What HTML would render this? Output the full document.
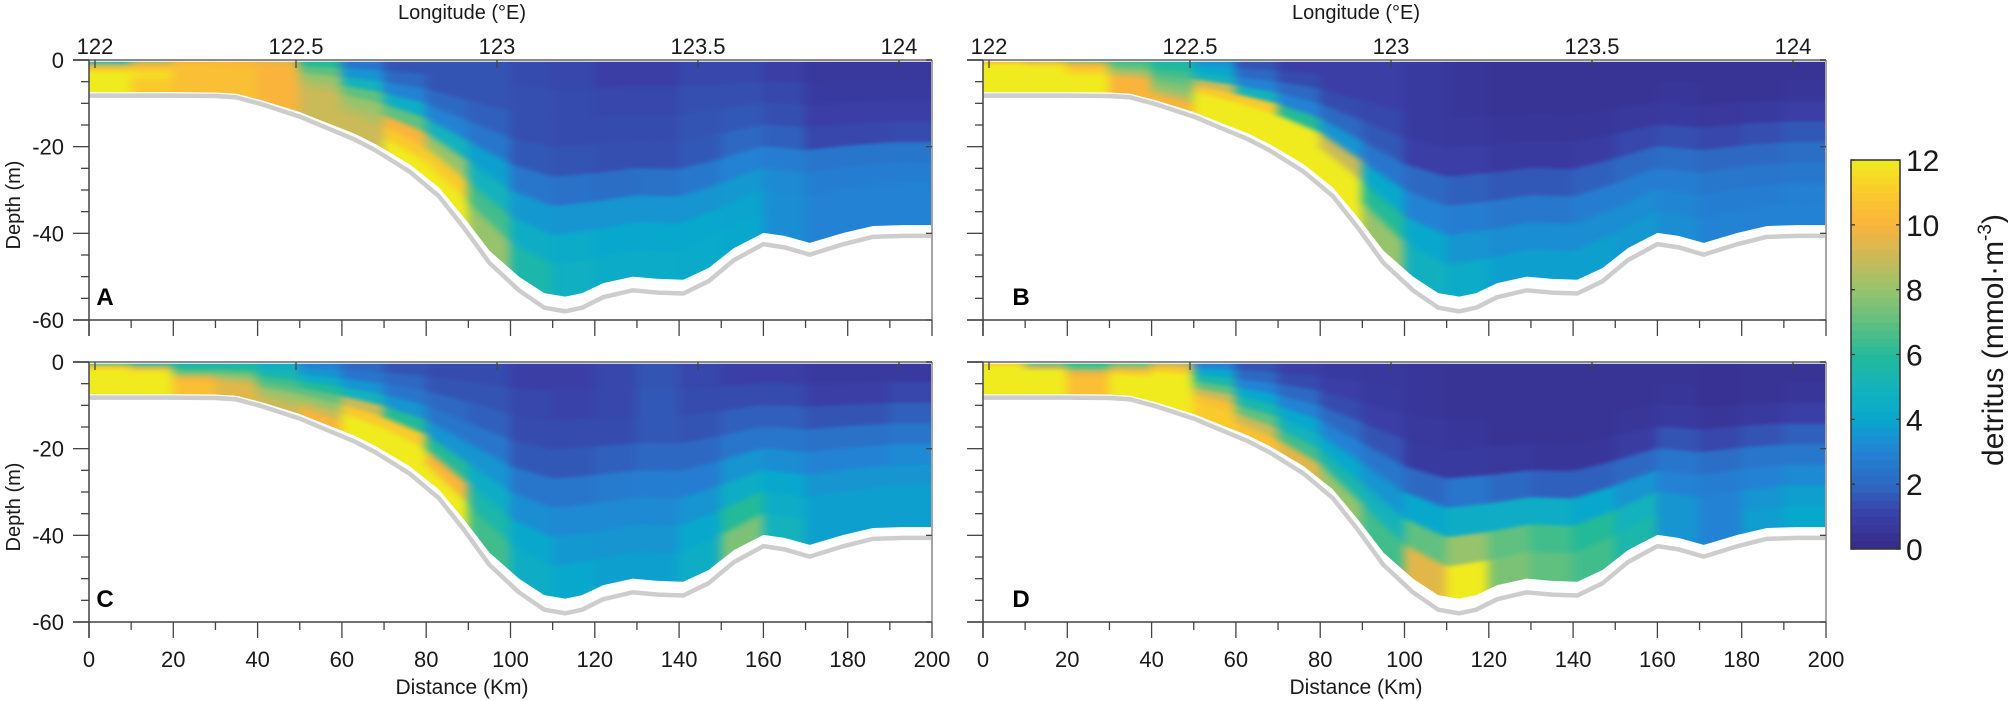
<!DOCTYPE html>
<html><head><meta charset="utf-8"><title>Detritus sections</title>
<style>
html,body{margin:0;padding:0;background:#fff;}
svg{display:block;font-family:"Liberation Sans",Arial,sans-serif;}
</style></head>
<body>
<svg id="chart" width="2008" height="701" viewBox="0 0 2008 701" xmlns="http://www.w3.org/2000/svg">
<defs>
<filter id="soft" x="-5%" y="-10%" width="110%" height="120%" color-interpolation-filters="sRGB"><feGaussianBlur stdDeviation="5 1.5"/></filter>
</defs>
</svg>
<script>
// ---- data ----
const distanceTicks = [0,20,40,60,80,100,120,140,160,180,200];
const depthTicks = [0,-20,-40,-60];
const lonTicks = [122,122.5,123,123.5,124];
const colorbarTicks = [0,2,4,6,8,10,12];
const columnStartsKm = [0,10,20,30,40,50,60,70,80,90,100,110,120,130,140,150,160,170,180,190];
const bathyKm    = [0,10,20,30,35,41,50,57,63,68,76,83,89,95,102,108,113,117,122,129,135,141,147,153,160,165,171,179,186,193,200];
const bathyDepth = [7.4,7.4,7.4,7.5,7.8,9.3,12,14.7,17,19.4,24,29.4,36.4,44,50,53.8,54.6,53.8,51.5,50,50.5,50.7,48,43.4,39.9,40.6,42.2,39.9,38.3,38.1,38.1];
// each row = one 10-km column, values from surface layer to bottom layer (mmol m-3)
const valuesA = [
[5,9,11,12,12,12,12,12],[8,10,11,11.5,11.5,11,11,11],[10,10.5,10.5,10.5,10.5,10.5,10.5,10.5],[10,10.3,10.5,10.5,10.5,10.5,10.5,10.5],
[9.5,10,10,10,10,10,10,10],[6,7,8,8.5,9,9,9,9],[2.5,3.5,5,7,8,8.5,9,9],[1.5,2,3,4.5,7,10,11,12],
[1.5,1.5,2,3,5,8,11,12],[1.5,1.5,1.8,2.5,3.8,5,6.5,8],[1.3,1.4,1.4,1.6,2.5,3.6,4.5,5.5],[1.2,1.3,1.3,1.5,2.3,3.5,4.3,4.7],
[1,1.2,1.3,1.4,2.2,3.5,4,4.3],[1,1.2,1.3,1.4,2.3,3.5,4,4.3],[1.2,1.4,1.5,1.6,2.6,3.5,4,4.2],[1.2,1.4,1.6,2,3,3.6,3.9,4],
[1,1.2,1.4,1.8,2.8,3.2,3.3,3.3],[0.7,0.8,1,1.2,2.5,2.8,3,3],[0.7,0.8,1,1.2,2.5,2.8,3,3],[0.7,0.8,1,1.3,2.5,2.8,3,3]];
const valuesB = [
[10,12,12,12,12,12,12,12],[9,11.5,12,12,12,12,12,12],[7.5,10,11,11.5,12,12,12,12],[6.5,7,8,9,10,10,10,10],
[5.5,6,6.5,7,7.5,8,9,10],[3.5,4,5,9,11,12,12,12],[1.5,2,3,5,11,12,12,12],[1,1.3,2,3,6,12,12,12],
[1,1,1.3,2,3.5,9,12,12],[1,1,1.2,1.6,2.5,4,6,8],[0.8,0.8,0.8,1,2,3,4,4.8],[0.6,0.6,0.7,1,1.8,2.8,3.5,4.3],
[0.5,0.5,0.6,0.8,1.6,2.6,3.3,3.8],[0.5,0.5,0.6,0.8,1.6,2.6,3.3,3.8],[0.5,0.5,0.6,0.9,1.8,2.8,3.3,3.8],[0.5,0.5,0.7,1.2,2,2.8,3.3,3.6],
[0.5,0.6,0.8,1.4,2.2,2.8,3.1,3.3],[0.5,0.5,0.7,1.2,2,2.6,2.8,3],[0.5,0.5,0.8,1.4,2,2.5,2.8,3],[0.5,0.6,1,1.6,2.2,2.6,2.9,3]];
const valuesC = [
[7,11,12,12,12,12,12,12],[5.5,9,11.5,12,12,12,12,12],[5,6,7,8.5,10,10.5,10.5,10.5],[5,6,7,8,9,9.5,9.5,9.5],
[4.5,5,5.5,6.5,7,8,8.5,9],[3,3.5,4.5,6,7,8,9,10],[2,2.5,3.5,5,9,11,12,12],[1.5,2,2.5,3.5,6,11,12,12],
[1.3,1.5,2,2.5,3.5,6,10,12],[1.3,1.5,1.8,2.5,3.5,4.5,5.5,6.5],[1,1.2,1.3,1.6,2.5,3.3,4,4.5],[1,1.1,1.3,1.6,2.5,3.2,3.6,4],
[1.2,1.2,1.3,1.8,2.7,3.2,3.5,3.8],[1.5,1.6,1.6,2,2.8,3.2,3.5,3.8],[1.2,1.3,1.5,2,2.8,3.5,4,4.5],[1,1.3,1.8,2.5,3.5,4.5,6,7.5],
[1,1.3,1.8,2.5,3.3,4,4.5,5],[0.8,1,1.5,2.3,3,3.5,3.8,3.8],[0.8,1,1.5,2.3,3,3.5,3.8,3.8],[0.8,1.2,1.8,2.5,3.2,3.5,3.8,3.8]];
const valuesD = [
[11,12,12,12,12,12,12,12],[7,9,12,12,12,12,12,12],[6,7,9,10,10.5,10.5,10.5,10.5],[7,9,11,12,12,12,12,12],
[9,11,12,12,12,12,12,12],[3,4,5.5,7,9,10.5,11,11],[1.5,2,3,4,5.5,7,9,10.5],[1,1.3,2,3,4,5,6.5,9.5],
[0.8,1,1.3,2,3,4,5.5,8],[0.7,0.8,1,1.5,2.5,3.5,5,6.5],[0.6,0.6,0.7,0.8,2,4,7,9.5],[0.5,0.5,0.6,0.8,2.5,4.5,8,12],
[0.5,0.5,0.5,0.7,2,4.5,7,7.5],[0.5,0.5,0.5,0.6,1.8,4.5,6.5,7],[0.5,0.5,0.5,0.6,1.8,4,6,6.5],[0.5,0.5,0.6,0.9,2,3.5,5,5.5],
[0.5,0.6,0.8,1.5,2.5,3,3.5,3.5],[0.4,0.4,0.6,1.2,2.2,2.8,3,3],[0.5,0.5,0.8,1.5,2.5,3,3.5,3.7],[0.5,0.6,1,1.8,2.6,3.2,3.8,4]];

// ---- layout ----
const NS = "http://www.w3.org/2000/svg";
const svg = document.getElementById('chart');
const PW = 843, PH = 260, KM = 200, DM = 60, VMAX = 12;
const panels = [
 {id:'a', label:'A', x:89, y:60, vals:valuesA, left:true, bottom:false},
 {id:'b', label:'B', x:983, y:60, vals:valuesB, left:false, bottom:false},
 {id:'c', label:'C', x:89, y:362, vals:valuesC, left:true, bottom:true},
 {id:'d', label:'D', x:983, y:362, vals:valuesD, left:false, bottom:true}
];
const stops = [[53,42,135],[58,62,165],[45,105,195],[35,130,212],[8,168,205],[20,178,188],[35,186,152],[95,192,128],[150,195,108],[202,186,88],[250,180,60],[250,202,44],[240,235,30]];
function parula(v){
  let t = Math.max(0, Math.min(1, v / VMAX)) * (stops.length - 1);
  let i = Math.min(stops.length - 2, Math.floor(t)), f = t - i;
  const c = stops[i].map((s, k) => Math.round(s + (stops[i+1][k] - s) * f));
  return 'rgb(' + c.join(',') + ')';
}
function el(tag, attrs, parent){
  const e = document.createElementNS(NS, tag);
  for (const k in attrs) e.setAttribute(k, attrs[k]);
  (parent || svg).appendChild(e);
  return e;
}
function bathyAt(km){
  if (km <= bathyKm[0]) return bathyDepth[0];
  for (let i = 1; i < bathyKm.length; i++) {
    if (km <= bathyKm[i]) { const f = (km - bathyKm[i-1]) / (bathyKm[i] - bathyKm[i-1]); return bathyDepth[i-1] + f * (bathyDepth[i] - bathyDepth[i-1]); }
  }
  return bathyDepth[bathyDepth.length - 1];
}
function txt(parent, x, y, s, size, anchor, extra){
  const t = el('text', Object.assign({x:x, y:y, 'font-size':size, 'text-anchor':anchor || 'middle', fill:'#1a1a1a'}, extra || {}), parent);
  t.textContent = s;
  return t;
}

panels.forEach(p => {
  const X = km => p.x + km * PW / KM;
  const Y = d => p.y + d * PH / DM;
  const LX = lon => p.x + 6 + (lon - 122) * 402;
  const g = el('g', {});
  
  

  const cp = el('clipPath', {id:'clip-' + p.id}, svg.querySelector('defs'));
  let pts = [[X(0), Y(0.4)], [X(KM), Y(0.4)]];
  for (let i = bathyKm.length - 1; i >= 0; i--) pts.push([X(bathyKm[i]), Y(bathyDepth[i])]);
  el('polygon', {points: pts.map(q => q.join(',')).join(' ')}, cp);

  const field = el('g', {'clip-path':'url(#clip-' + p.id + ')'}, g);
  
  
  const soft = el('g', {filter:'url(#soft)'}, field);
  const L = p.vals[0].length;
  p.vals.forEach((col, i) => {
    let a = columnStartsKm[i], b = a + 10;
    if (i === 0) a = -10;
    if (i === p.vals.length - 1) b = 210;
    const da = bathyAt(a), db = bathyAt(b);
    col.forEach((v, k) => {
      let ta = da * k / L, tb = db * k / L, ba = da * (k + 1) / L, bb = db * (k + 1) / L;
      if (k === 0) { ta = -4; tb = -4; }
      if (k === L - 1) { ba += 8; bb += 8; }
      const poly = el('polygon', {points: [X(a),Y(ta),X(b),Y(tb),X(b),Y(bb),X(a),Y(ba)].join(' '), fill: parula(v), stroke: parula(v), 'stroke-width': 1}, soft);
      
      
    });
  });

  const seabed = el('polyline', {points: bathyKm.map((k, i) => X(k) + ',' + Y(bathyDepth[i] * 1.055 + 0.4)).join(' '), fill:'none', stroke:'#cdcdcd', 'stroke-width':4.5, 'stroke-linejoin':'round'}, g);
  
  

  const axisColor = '#444';
  const topAx = el('line', {x1:p.x - 16, y1:p.y, x2:p.x + PW, y2:p.y, stroke:'#8a8a8a', 'stroke-width':2}, g);
  
  
  const rightAx = el('line', {x1:p.x + PW, y1:p.y, x2:p.x + PW, y2:p.y + PH, stroke:'#a5a5a5', 'stroke-width':2}, g);
  
  
  const leftAx = el('line', {x1:p.x, y1:p.y, x2:p.x, y2:p.y + PH + 16, stroke:axisColor, 'stroke-width':1.5}, g);
  
  
  const botAx = el('line', {x1:p.x - 16, y1:p.y + PH, x2:p.x + PW, y2:p.y + PH, stroke:axisColor, 'stroke-width':1.5}, g);
  
  

  for (let d = 0; d <= DM; d += 5) {
    const major = d % 20 === 0;
    el('line', {x1:p.x - (major ? 16 : 8), y1:Y(d), x2:p.x, y2:Y(d), stroke:axisColor, 'stroke-width':1.3}, g);
  }
  depthTicks.forEach(t => {
    el('line', {x1:p.x + PW - 6, y1:Y(-t), x2:p.x + PW, y2:Y(-t), stroke:axisColor, 'stroke-width':1.3}, g);
    if (p.left) {
      const lab = txt(g, p.x - 25, Y(-t) + 8, String(t), 22, 'end');
      
      
    }
  });
  for (let k = 0; k <= KM; k += 10) {
    const major = k % 20 === 0;
    el('line', {x1:X(k), y1:p.y + PH, x2:X(k), y2:p.y + PH + (major ? 16 : 8), stroke:axisColor, 'stroke-width':1.3}, g);
  }
  if (p.bottom) {
    distanceTicks.forEach(k => {
      const lab = txt(g, X(k), 667, String(k), 22);
      
      
    });
    const xt = txt(g, p.x + 373, 694, 'Distance (Km)', 21);
    
    
  }
  lonTicks.forEach(l => {
    el('line', {x1:LX(l), y1:p.y, x2:LX(l), y2:p.y + 8, stroke:axisColor, 'stroke-width':1.3}, g);
    if (!p.bottom) {
      const lab = txt(g, LX(l), 54, String(l), 22);
      
      
    }
  });
  if (!p.bottom) {
    const lt = txt(g, p.x + 373, 19, 'Longitude (\u00B0E)', 20);
    
    
  }
  if (p.left) {
    const yt = txt(g, 0, 0, 'Depth (m)', 20, 'middle', {transform:'translate(20,' + (p.y + 145) + ') rotate(-90)'});
    
    
  }
  const pl = txt(g, p.x + (p.left ? 16 : 38), p.y + 245, p.label, 24, 'middle', {'font-weight':'bold', fill:'#000'});
  
  
});

// ---- colorbar ----
const cb = el('g', {});


const CBX = 1851, CBW = 49, CBT = 160, CBB = 549;
const CY = v => CBB - v * (CBB - CBT) / VMAX;
for (let v = 0; v < VMAX; v += 0.25) {
  el('rect', {x:CBX, y:CY(v + 0.25) - 0.5, width:CBW, height:(CBB - CBT) / VMAX * 0.25 + 1, fill:parula(v + 0.125)}, cb);
}
const cbBox = el('rect', {x:CBX, y:CBT, width:CBW, height:CBB - CBT, fill:'none', stroke:'#333', 'stroke-width':1.5}, cb);


colorbarTicks.forEach(v => {
  el('line', {x1:CBX, y1:CY(v), x2:CBX + 4, y2:CY(v), stroke:'#333', 'stroke-width':1.3}, cb);
  el('line', {x1:CBX + CBW - 4, y1:CY(v), x2:CBX + CBW, y2:CY(v), stroke:'#333', 'stroke-width':1.3}, cb);
  const lab = txt(cb, 1906, CY(v) + 11, String(v), 30, 'start');
  
  
});
const cbt = el('text', {transform:'translate(2003,340) rotate(-90)', 'font-size':30, 'text-anchor':'middle', fill:'#1a1a1a'}, cb);


cbt.innerHTML = 'detritus (mmol\u00B7m<tspan font-size="19" dy="-12">-3</tspan><tspan dy="12">)</tspan>';
</script>
</body></html>
